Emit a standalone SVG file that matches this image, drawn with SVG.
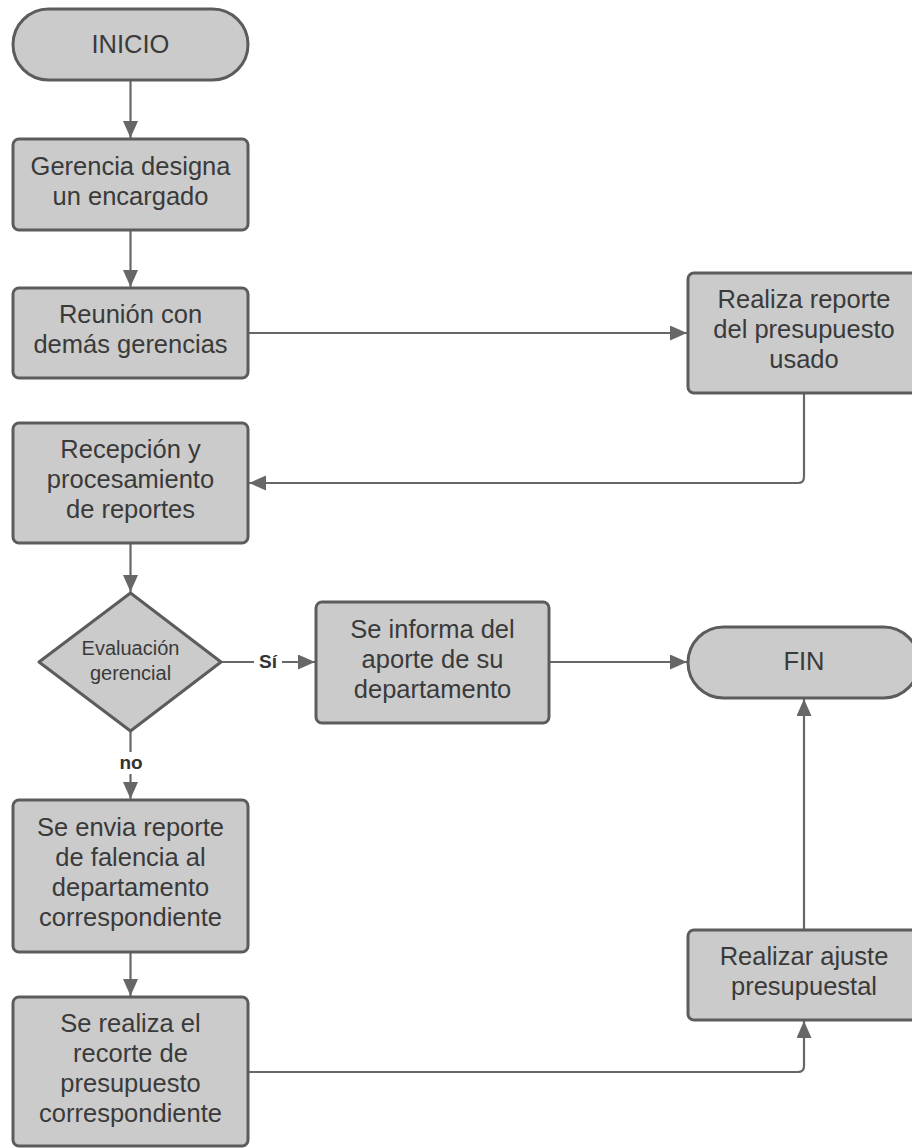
<svg xmlns="http://www.w3.org/2000/svg" width="912" height="1148" viewBox="0 0 912 1148">
<style>
.node{fill:#cbcbcb;stroke:#5c5c5c;stroke-width:3}
.t{font-family:"Liberation Sans",Arial,sans-serif;font-size:25.5px;fill:#3a3a3a;text-anchor:middle}
.ts{font-family:"Liberation Sans",Arial,sans-serif;font-size:20px;fill:#3a3a3a;text-anchor:middle}
.lb{font-family:"Liberation Sans",Arial,sans-serif;font-size:19px;font-weight:bold;fill:#333;text-anchor:middle}
.c{fill:none;stroke:#676767;stroke-width:2.2}
</style>
<defs>
<marker id="ah" markerUnits="userSpaceOnUse" markerWidth="18" markerHeight="16" refX="17" refY="7.5" orient="auto">
<path d="M0,0 L17,7.5 L0,15 z" fill="#676767"/>
</marker>
</defs>
<rect width="912" height="1148" fill="#ffffff"/>
<g id="connectors">
<path class="c" d="M130.5,80 V138" marker-end="url(#ah)"/>
<path class="c" d="M130.5,230 V287" marker-end="url(#ah)"/>
<path class="c" d="M248,333 H687" marker-end="url(#ah)"/>
<path class="c" d="M804,393 V477 Q804,483 798,483 H249" marker-end="url(#ah)"/>
<path class="c" d="M130.5,543 V592" marker-end="url(#ah)"/>
<path class="c" d="M221,662 H315" marker-end="url(#ah)"/>
<path class="c" d="M549,662 H687" marker-end="url(#ah)"/>
<path class="c" d="M130.5,731 V799" marker-end="url(#ah)"/>
<path class="c" d="M130.5,952 V996" marker-end="url(#ah)"/>
<path class="c" d="M248,1072 H798 Q804,1072 804,1066 V1021" marker-end="url(#ah)"/>
<path class="c" d="M804,930 V699" marker-end="url(#ah)"/>
<rect x="254" y="650" width="28" height="22" fill="#ffffff"/>
<text class="lb" x="268" y="668">Sí</text>
<rect x="116" y="752" width="30" height="22" fill="#ffffff"/>
<text class="lb" x="131" y="769">no</text>
</g>
<g id="inicio">
<rect class="node" x="13" y="9" width="235" height="71" rx="35.5"/>
<text class="t" x="130.5" y="53">INICIO</text>
</g>
<g id="gerencia">
<rect class="node" x="13" y="139" width="235" height="91" rx="6"/>
<text class="t" x="130.5" y="174.5">Gerencia designa</text>
<text class="t" x="130.5" y="204.5">un encargado</text>
</g>
<g id="reunion">
<rect class="node" x="13" y="288" width="235" height="90" rx="6"/>
<text class="t" x="130.5" y="323">Reunión con</text>
<text class="t" x="130.5" y="353">demás gerencias</text>
</g>
<g id="realiza">
<rect class="node" x="688" y="273" width="232" height="120" rx="6"/>
<text class="t" x="804" y="308">Realiza reporte</text>
<text class="t" x="804" y="338">del presupuesto</text>
<text class="t" x="804" y="368">usado</text>
</g>
<g id="recepcion">
<rect class="node" x="13" y="423" width="235" height="120" rx="6"/>
<text class="t" x="130.5" y="458">Recepción y</text>
<text class="t" x="130.5" y="488">procesamiento</text>
<text class="t" x="130.5" y="518">de reportes</text>
</g>
<g id="evaluacion">
<path class="node" d="M130.5,593 L221,662 L130.5,731 L39,662 Z" stroke-linejoin="round"/>
<text class="ts" x="130.5" y="655">Evaluación</text>
<text class="ts" x="130.5" y="680">gerencial</text>
</g>
<g id="informa">
<rect class="node" x="316" y="602" width="233" height="121" rx="6"/>
<text class="t" x="432.5" y="637.5">Se informa del</text>
<text class="t" x="432.5" y="667.5">aporte de su</text>
<text class="t" x="432.5" y="697.5">departamento</text>
</g>
<g id="fin">
<rect class="node" x="688" y="627" width="231" height="71" rx="35.5"/>
<text class="t" x="804" y="670">FIN</text>
</g>
<g id="envia">
<rect class="node" x="13" y="800" width="235" height="152" rx="6"/>
<text class="t" x="130.5" y="836">Se envia reporte</text>
<text class="t" x="130.5" y="866">de falencia al</text>
<text class="t" x="130.5" y="896">departamento</text>
<text class="t" x="130.5" y="926">correspondiente</text>
</g>
<g id="recorte">
<rect class="node" x="13" y="997" width="235" height="149" rx="6"/>
<text class="t" x="130.5" y="1031.5">Se realiza el</text>
<text class="t" x="130.5" y="1061.5">recorte de</text>
<text class="t" x="130.5" y="1091.5">presupuesto</text>
<text class="t" x="130.5" y="1121.5">correspondiente</text>
</g>
<g id="ajuste">
<rect class="node" x="688" y="930" width="232" height="90" rx="6"/>
<text class="t" x="804" y="965">Realizar ajuste</text>
<text class="t" x="804" y="995">presupuestal</text>
</g>
</svg>
